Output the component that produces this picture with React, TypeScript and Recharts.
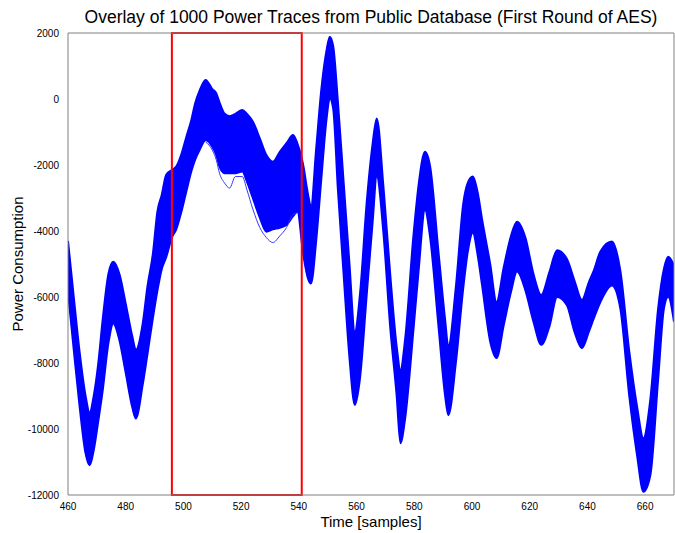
import React from 'react';
import { ComposedChart, Area, Line, XAxis, YAxis, ReferenceArea } from 'recharts';

const samples = [
  460, 462, 464, 466, 467.5, 469, 470.5, 472, 474, 475.7, 477.8, 480, 482.3, 483.5, 485.9, 487.5, 489.4, 491, 492.5, 494,
  496, 497.5, 499.2, 501, 502.7, 504, 505.6, 507.7, 510, 511.4, 512.5, 514.3, 516, 518, 520.4, 522, 524.1, 526.5, 528.75,
  531, 533.4, 535.7, 538, 539.5, 541.5, 543.2, 544.2, 546, 547.8, 549.6, 550.7, 551.9, 553.5, 555.5, 557.5, 559.4, 561.2,
  563.5, 565.5, 567, 569.3, 571.6, 573.9, 575.2, 576.8, 579.7, 581.5, 583.7, 585.5, 588.4, 590.7, 591.8, 594.4, 597, 598.5,
  600.3, 602, 603.5, 606.3, 608.5, 611, 613.5, 615.6, 618.5, 621.3, 624, 626.8, 629.5, 632.9, 635.5, 638.1, 640.5, 642.2,
  644.5, 648.5, 651.4, 654.5, 657.2, 659.4, 661.8, 664.5, 666.5, 668, 670,
];

const upperEnvelope = [
  -4300, -6000, -7650, -8950, -9500, -8950, -8000, -6700, -5300, -4930, -5300, -6200, -7200, -7600, -6800, -5700, -4700, -3400, -2900, -2300,
  -2150, -2050, -1700, -1150, -650, -150, 250, 575, 300, 170, -100, -450, -520, -450, -330, -450, -690, -1200, -1700,
  -1900, -1600, -1340, -1090, -1350, -2000, -2900, -3260, -1500, 300, 1480, 1890, 1600, -50, -2500, -4950, -7050, -5900,
  -3150, -1400, -590, -2650, -5250, -7500, -8210, -7300, -4150, -2600, -1600, -2050, -4650, -6700, -7500, -5700, -3150, -2550,
  -2350, -2850, -3650, -5000, -6150, -5100, -4150, -3720, -4200, -5300, -5940, -5250, -4580, -4850, -5500, -6090, -5550, -5200,
  -4620, -4320, -5200, -7650, -9320, -10280, -9100, -6350, -5150, -4780, -5050,
];

const lowerEnvelope = [
  -5850, -7600, -9300, -10700, -11100, -10600, -9750, -8850, -7400, -6800, -7300, -8300, -9350, -9680, -8650, -7750, -6650, -5800, -5150, -4800,
  -4200, -3950, -3450, -2800, -2200, -1850, -1545, -1240, -1450, -1700, -2050, -2250, -2250, -2250, -2200, -2500, -3010, -3600, -4020,
  -3950, -3900, -3820, -3550, -3420, -4700, -5450, -5590, -4300, -2400, -600, 20, -300, -2700, -5300, -7800, -9270, -8450,
  -5950, -3800, -2350, -4050, -6850, -9000, -10430, -9700, -7000, -5200, -3360, -4200, -6900, -9000, -9580, -8000, -5700, -4650,
  -4050, -4750, -5650, -7350, -7850, -6850, -5850, -5230, -5800, -6750, -7450, -6900, -6000, -6250, -7050, -7550, -7050, -6650,
  -6150, -5650, -6350, -9000, -10800, -11900, -11400, -8500, -6350, -5990, -6750,
];

const outlierSamples = [507.7, 510, 511.4, 512.5, 514.3, 516, 518, 520.4, 522, 524.1, 526.5, 528.75, 531, 533.4, 535.7, 538, 539.5];
const outlierTrace = [-1300, -1550, -1850, -2250, -2550, -2700, -2350, -2350, -2750, -3350, -3900, -4200, -4350, -4150, -3900, -3500, -3450];

const xTicks = [460, 480, 500, 520, 540, 560, 580, 600, 620, 640, 660];
const yTicks = [-12000, -10000, -8000, -6000, -4000, -2000, 0, 2000];
const xDomain = [460, 670];
const yDomain = [-12000, 2000];
const highlightWindow = [496, 541];

const allSamples = Array.from(new Set([...samples, ...outlierSamples])).sort((a, b) => a - b);
const data = allSamples.map((s) => {
  const i = samples.indexOf(s);
  const j = outlierSamples.indexOf(s);
  return {
    s,
    band: i >= 0 ? [lowerEnvelope[i], upperEnvelope[i]] : undefined,
    outlier: j >= 0 ? outlierTrace[j] : undefined,
  };
});

const FONT = '"Liberation Sans", Arial, Helvetica, sans-serif';
const AXIS_COLOR = '#808080';
const TICK_COLOR = '#404040';

export default function App() {
  return (
    <div style={{ position: 'fixed', left: 0, top: 0, width: 675, height: 533, background: '#fff', fontFamily: FONT }}>
      <div
        style={{
          position: 'absolute',
          left: 68,
          width: 606,
          top: 7,
          textAlign: 'center',
          fontSize: 17.5,
          lineHeight: '20px',
          color: '#000',
          whiteSpace: 'nowrap',
        }}
      >
        Overlay of 1000 Power Traces from Public Database (First Round of AES)
      </div>
      <ComposedChart
        width={675}
        height={533}
        data={data}
        margin={{ top: 33, right: 1, bottom: 0, left: 0 }}
        style={{ position: 'absolute', left: 0, top: 0 }}
      >
        <XAxis
          xAxisId="b"
          dataKey="s"
          type="number"
          domain={xDomain}
          ticks={xTicks}
          allowDataOverflow
          height={38}
          tickLine={false}
          axisLine={{ stroke: AXIS_COLOR }}
          tick={{ fontSize: 10, fill: '#000', fontFamily: FONT }}
          tickMargin={2}
          label={{ value: 'Time [samples]', position: 'insideBottom', offset: 6, style: { fontSize: 15, fill: '#000', fontFamily: FONT } }}
        />
        <XAxis
          xAxisId="bm"
          dataKey="s"
          type="number"
          domain={xDomain}
          ticks={xTicks}
          allowDataOverflow
          mirror
          tick={false}
          tickSize={5}
          tickLine={{ stroke: TICK_COLOR }}
          axisLine={false}
        />
        <XAxis
          xAxisId="t"
          dataKey="s"
          type="number"
          orientation="top"
          domain={xDomain}
          ticks={xTicks}
          allowDataOverflow
          mirror
          tick={false}
          tickSize={5}
          tickLine={{ stroke: TICK_COLOR }}
          axisLine={{ stroke: AXIS_COLOR }}
        />
        <YAxis
          yAxisId="l"
          type="number"
          domain={yDomain}
          ticks={yTicks}
          allowDataOverflow
          width={68}
          tickLine={false}
          axisLine={{ stroke: AXIS_COLOR }}
          tick={{ fontSize: 10, fill: '#000', fontFamily: FONT }}
          tickMargin={3}
          label={{
            value: 'Power Consumption',
            angle: -90,
            position: 'insideLeft',
            offset: 18,
            style: { fontSize: 15, fill: '#000', fontFamily: FONT, textAnchor: 'middle' },
          }}
        />
        <YAxis
          yAxisId="lm"
          type="number"
          domain={yDomain}
          ticks={yTicks}
          allowDataOverflow
          mirror
          tick={false}
          tickSize={5}
          tickLine={{ stroke: TICK_COLOR }}
          axisLine={false}
        />
        <YAxis
          yAxisId="r"
          type="number"
          orientation="right"
          domain={yDomain}
          ticks={yTicks}
          allowDataOverflow
          mirror
          tick={false}
          tickSize={5}
          tickLine={{ stroke: TICK_COLOR }}
          axisLine={{ stroke: AXIS_COLOR }}
        />
        <Area
          xAxisId="b"
          yAxisId="l"
          dataKey="band"
          type="monotone"
          connectNulls
          stroke="#0000ff"
          strokeWidth={2}
          fill="#0000ff"
          fillOpacity={1}
          dot={false}
          activeDot={false}
          isAnimationActive={false}
        />
        <Line
          xAxisId="b"
          yAxisId="l"
          dataKey="outlier"
          type="monotone"
          connectNulls
          stroke="#3333ff"
          strokeWidth={1}
          dot={false}
          activeDot={false}
          isAnimationActive={false}
        />
        <ReferenceArea
          xAxisId="b"
          yAxisId="l"
          x1={highlightWindow[0]}
          x2={highlightWindow[1]}
          y1={yDomain[0]}
          y2={yDomain[1]}
          fill="none"
          fillOpacity={0}
          stroke="#ff0000"
          strokeWidth={2}
          ifOverflow="visible"
        />
      </ComposedChart>
    </div>
  );
}
